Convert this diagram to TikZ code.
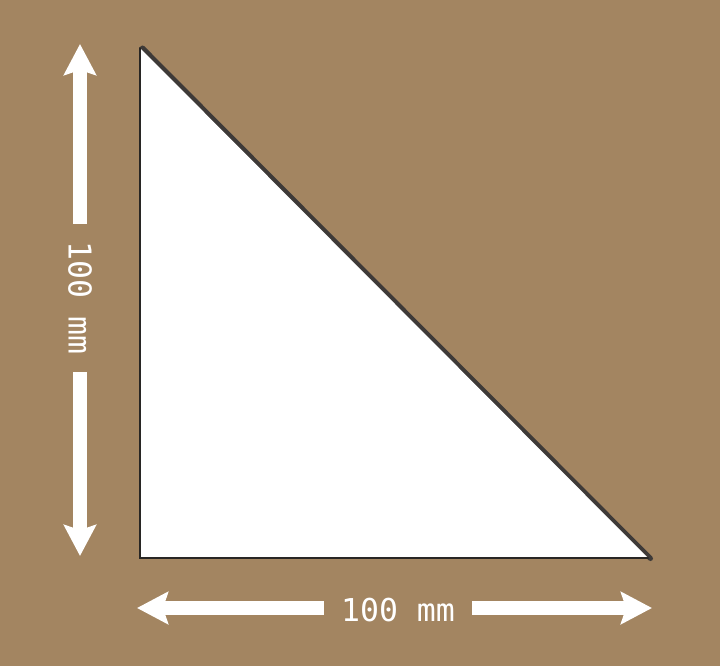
\documentclass[tikz,border=0pt]{standalone}
\usepackage{fontspec}
\setmonofont{DejaVu Sans Mono}
\usetikzlibrary{arrows.meta}
\definecolor{cardboard}{RGB}{163,133,97}
\definecolor{edgegray}{RGB}{40,38,36}
\definecolor{shadowgray}{RGB}{62,58,56}
\tikzset{
  dimarrow/.style={draw=white, line width=14pt, -{Stealth[length=31pt,width=32pt,inset=5pt]}},
  dimlabel/.style={text=white, font=\ttfamily\fontsize{31.5}{31.5}\selectfont, inner xsep=17pt, inner ysep=4pt},
}
\begin{document}
\begin{tikzpicture}[x=1pt,y=1pt]
\useasboundingbox (0,0) rectangle (720,-666);
\fill[cardboard] (0,0) rectangle (720,-666);
% triangle
\coordinate (A) at (140,-48);
\coordinate (B) at (140,-558);
\coordinate (C) at (648,-558);
\draw[shadowgray, line width=5pt, line cap=round] ([xshift=2.5pt]A) -- ([xshift=2.5pt,yshift=-0.5pt]C);
\fill[white] (A) -- (B) -- (C) -- cycle;
\draw[edgegray, line width=2pt, line cap=round, line join=miter] (A) -- (B) -- (C);
% vertical dimension
\node[dimlabel, rotate=-90] (vl) at (80,-298) {100 mm};
\coordinate (vtop) at (80,-44);
\coordinate (vbot) at (80,-556);
\draw[dimarrow] (vl.west) -- (vtop);
\draw[dimarrow] (vl.east) -- (vbot);
% horizontal dimension
\node[dimlabel] (hl) at (398,-610) {100 mm};
\coordinate (hleft) at (137,-608);
\coordinate (hright) at (652,-608);
\draw[dimarrow] (hl.west |- hleft) -- (hleft);
\draw[dimarrow] (hl.east |- hright) -- (hright);
\end{tikzpicture}
\end{document}
